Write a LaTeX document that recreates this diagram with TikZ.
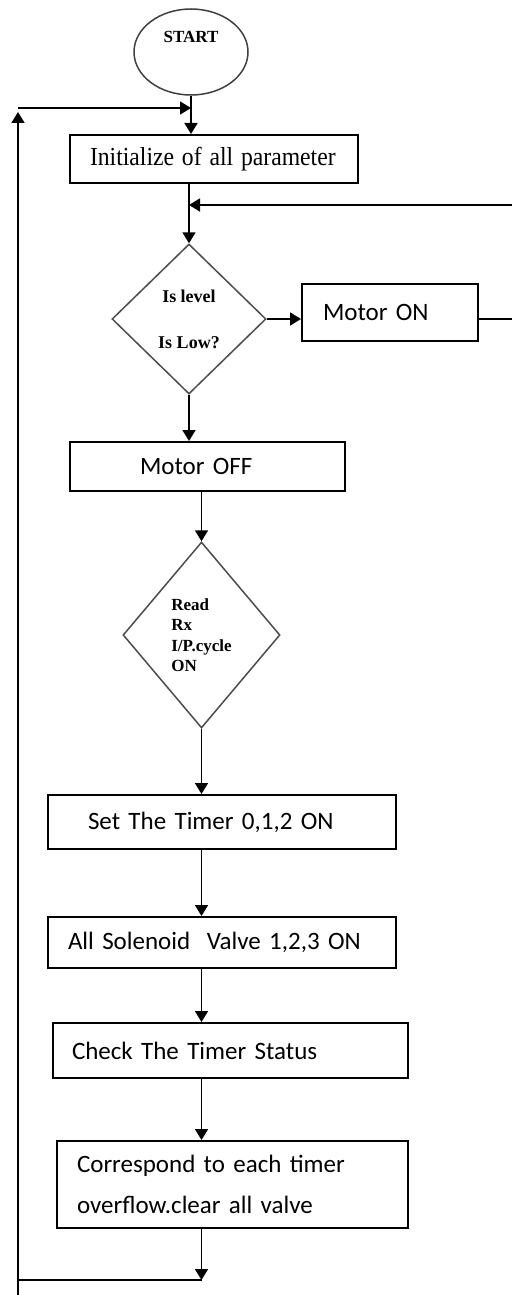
\documentclass[tikz,border=0pt]{standalone}
\usepackage{fontspec}
\usepackage{graphicx}
\setmainfont{Liberation Serif}
\newfontfamily\calfont{Carlito}
\usetikzlibrary{shapes.geometric,arrows.meta}
\begin{document}
\begin{tikzpicture}[x=0.5pt,y=-0.5pt,
  box/.style={draw, line width=1pt, rectangle, inner ysep=0pt, align=left,
    font=\calfont\fontsize{12.5}{20.5}\selectfont},
  dia/.style={draw=black!70, line width=0.75pt, diamond, inner sep=0pt,
    font=\bfseries\fontsize{8.5}{10.2}\selectfont},
  arr/.style={line width=0.9pt, -{Triangle[width=6.5pt,length=5.5pt]}},
  ln/.style={line width=0.9pt}]
\useasboundingbox (0,0) rectangle (512,1295);

% nodes
\node[ellipse, draw=black!75, line width=0.75pt, inner sep=0pt,
  minimum width=57pt, minimum height=43pt,
  font=\bfseries\fontsize{8.5}{10}\selectfont] (start) at (191,52)
  {\raisebox{4.5pt}[0pt][0pt]{START}};

\node[box, font=\fontsize{13}{15}\selectfont, text width=124pt, inner xsep=10pt,
  minimum height=24pt] (init) at (214,159)
  {\scalebox{0.91}[1]{Initialize of all parameter}};

\node[dia, minimum width=77pt, minimum height=75pt, align=center,
  font=\bfseries\fontsize{9}{23}\selectfont] (d1) at (189,319)
  {Is level\\Is Low?};

\node[box, text width=67pt, inner xsep=10.5pt, minimum height=28.5pt]
  (motoron) at (390,312.5) {Motor ON};

\node[box, text width=67.5pt, inner xsep=35pt, minimum height=24.5pt]
  (motoroff) at (207.5,466.5) {Motor OFF};

\node[dia, minimum width=78.5pt, minimum height=93pt, align=left]
  (d2) at (201.5,635) {Read\\Rx\\I/P.cycle\\ON};

\node[box, text width=134pt, inner xsep=20pt, minimum height=27pt]
  (set) at (222,822) {Set The Timer 0,1,2 ON};

\node[box, text width=154pt, inner xsep=10pt, minimum height=25.5pt]
  (sol) at (222,942.5) {All Solenoid\ \ Valve 1,2,3 ON};

\node[box, text width=158.5pt, inner xsep=9.5pt, minimum height=27.5pt]
  (check) at (230.5,1050.5) {Check The Timer Status};

\node[box, text width=155.5pt, inner xsep=10pt, minimum height=43.5pt]
  (corr) at (232.5,1184.5) {Correspond to each timer\\overflow.clear all valve};

% helper coordinates
\coordinate (tl) at (18,108);
\coordinate (bl) at (18,1300);
\coordinate (fby) at (0,205);
\coordinate (re) at (515,0);
\coordinate (by) at (0,1280);

% connectors
\draw[arr] (start.south) -- (start.south |- init.north);
\draw[arr] (tl) -- (tl -| start.south);
\draw[arr, shorten >=2pt] (bl) -- (tl);
\draw[arr] (init.south -| d1.north) -- (d1.north);
\draw[arr] (d1.east) -- (d1.east -| motoron.west);
\draw[arr] (motoron.east |- d1.east) -- (re |- d1.east) -- (re |- fby) -- (d1.north |- fby);
\draw[arr] (d1.south) -- (d1.south |- motoroff.north);
\draw[arr] (motoroff.south -| d2.north) -- (d2.north);
\draw[arr] (d2.south) -- (d2.south |- set.north);
\draw[arr] (set.south -| d2.south) -- (sol.north -| d2.south);
\draw[arr] (sol.south -| d2.south) -- (check.north -| d2.south);
\draw[arr] (check.south -| d2.south) -- (corr.north -| d2.south);
\draw[arr] (corr.south -| d2.south) -- (d2.south |- by);
\draw[ln] (d2.south |- by) -- (bl |- by);
\end{tikzpicture}
\end{document}
